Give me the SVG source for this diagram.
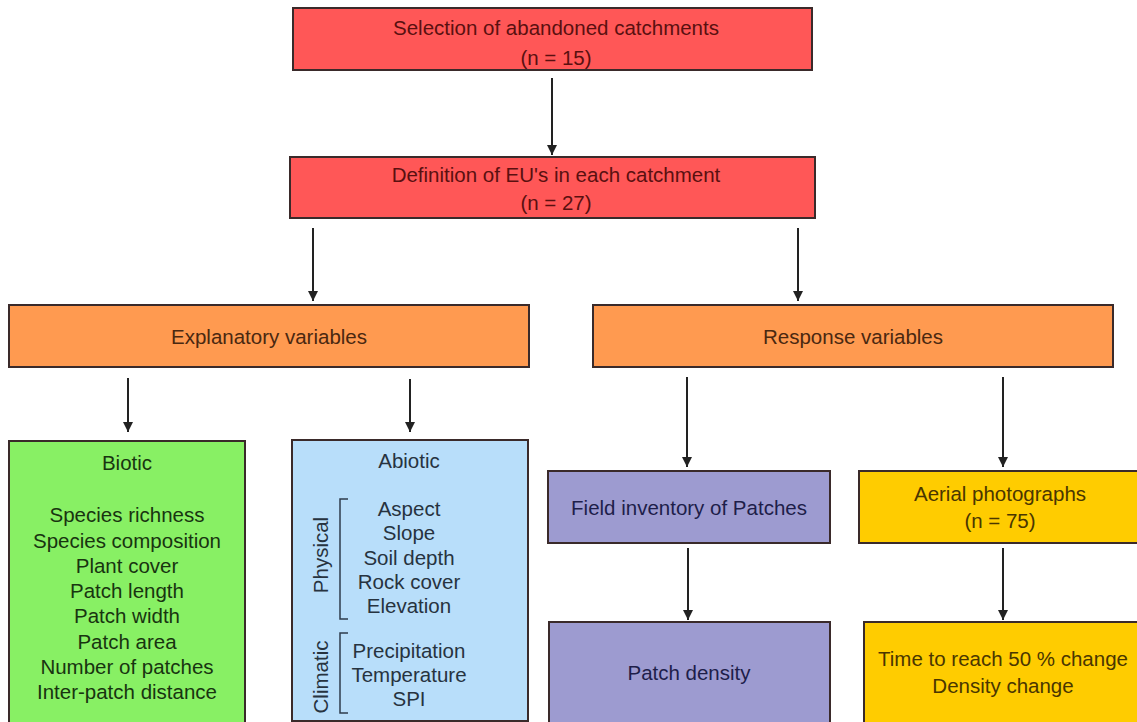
<svg xmlns="http://www.w3.org/2000/svg" width="1137" height="722" viewBox="0 0 1137 722">
<style>
text{font-family:"Liberation Sans",Arial,sans-serif;font-size:20.5px;text-anchor:middle;dominant-baseline:central}
.box{stroke:#3a2a2a;stroke-width:2}
.red{fill:#ff5757}
.org{fill:#ff9a50}
.grn{fill:#88f064}
.blu{fill:#b8defa}
.pur{fill:#9d9bd0}
.yel{fill:#ffcc00}
.tred{fill:#5a1010}
.torg{fill:#4a2810}
.tgrn{fill:#183410}
.tblu{fill:#27333f}
.tpur{fill:#1e1e4a}
.tyel{fill:#4a3600}
.br{fill:none;stroke:#2e3c4c;stroke-width:1.5}
.conn line{stroke:#222;stroke-width:2}
</style>
<defs>
<marker id="ah" viewBox="0 0 10 10" refX="10" refY="5" markerWidth="5" markerHeight="5" markerUnits="strokeWidth" orient="auto">
<path d="M0,0 L10,5 L0,10 z" fill="#222"/>
</marker>
</defs>
<g class="conn">
<line x1="552" y1="78" x2="552" y2="155" marker-end="url(#ah)"/>
<line x1="313" y1="228" x2="313" y2="301" marker-end="url(#ah)"/>
<line x1="798" y1="228" x2="798" y2="301" marker-end="url(#ah)"/>
<line x1="128" y1="378" x2="128" y2="432" marker-end="url(#ah)"/>
<line x1="410" y1="379" x2="410" y2="432" marker-end="url(#ah)"/>
<line x1="687" y1="377" x2="687" y2="467" marker-end="url(#ah)"/>
<line x1="1003" y1="377" x2="1003" y2="467" marker-end="url(#ah)"/>
<line x1="688" y1="548" x2="688" y2="620" marker-end="url(#ah)"/>
<line x1="1003" y1="548" x2="1003" y2="620" marker-end="url(#ah)"/>
</g>
<g id="n-selection">
<rect class="box red" x="293" y="8" width="519" height="62"/>
<text class="tred" x="556" y="27">Selection of abandoned catchments</text>
<text class="tred" x="556" y="57">(n = 15)</text>
</g>
<g id="n-definition">
<rect class="box red" x="290" y="157" width="525" height="61"/>
<text class="tred" x="556" y="174">Definition of EU's in each catchment</text>
<text class="tred" x="556" y="202">(n = 27)</text>
</g>
<g id="n-explanatory">
<rect class="box org" x="9" y="305" width="520" height="62"/>
<text class="torg" x="269" y="336">Explanatory variables</text>
</g>
<g id="n-response">
<rect class="box org" x="593" y="305" width="520" height="62"/>
<text class="torg" x="853" y="336">Response variables</text>
</g>
<g id="n-biotic">
<rect class="box grn" x="9" y="441" width="236" height="290"/>
<text class="tgrn" x="127" y="462">Biotic</text>
<text class="tgrn" x="127" y="514">Species richness</text>
<text class="tgrn" x="127" y="540">Species composition</text>
<text class="tgrn" x="127" y="565">Plant cover</text>
<text class="tgrn" x="127" y="590">Patch length</text>
<text class="tgrn" x="127" y="615">Patch width</text>
<text class="tgrn" x="127" y="641">Patch area</text>
<text class="tgrn" x="127" y="666">Number of patches</text>
<text class="tgrn" x="127" y="691">Inter-patch distance</text>
</g>
<g id="n-abiotic">
<rect class="box blu" x="292" y="440" width="236" height="281"/>
<text class="tblu" x="409" y="460">Abiotic</text>
<text class="tblu" x="409" y="508">Aspect</text>
<text class="tblu" x="409" y="532">Slope</text>
<text class="tblu" x="409" y="557">Soil depth</text>
<text class="tblu" x="409" y="581">Rock cover</text>
<text class="tblu" x="409" y="605">Elevation</text>
<text class="tblu" x="409" y="650">Precipitation</text>
<text class="tblu" x="409" y="674">Temperature</text>
<text class="tblu" x="409" y="698">SPI</text>
<path class="br" d="M348,499 H340 V619 H348"/>
<path class="br" d="M348,633 H340 V713 H348"/>
<text class="tblu" transform="translate(320,555) rotate(-90)">Physical</text>
<text class="tblu" transform="translate(320,677) rotate(-90)">Climatic</text>
</g>
<g id="n-field">
<rect class="box pur" x="548" y="471" width="282" height="72"/>
<text class="tpur" x="689" y="507">Field inventory of Patches</text>
</g>
<g id="n-aerial">
<rect class="box yel" x="859" y="471" width="290" height="72"/>
<text class="tyel" x="1000" y="493">Aerial photographs</text>
<text class="tyel" x="1000" y="520">(n = 75)</text>
</g>
<g id="n-patchdensity">
<rect class="box pur" x="549" y="622" width="281" height="110"/>
<text class="tpur" x="689" y="672">Patch density</text>
</g>
<g id="n-time">
<rect class="box yel" x="864" y="622" width="285" height="110"/>
<text class="tyel" x="1003" y="658">Time to reach 50 % change</text>
<text class="tyel" x="1003" y="685">Density change</text>
</g>
</svg>
